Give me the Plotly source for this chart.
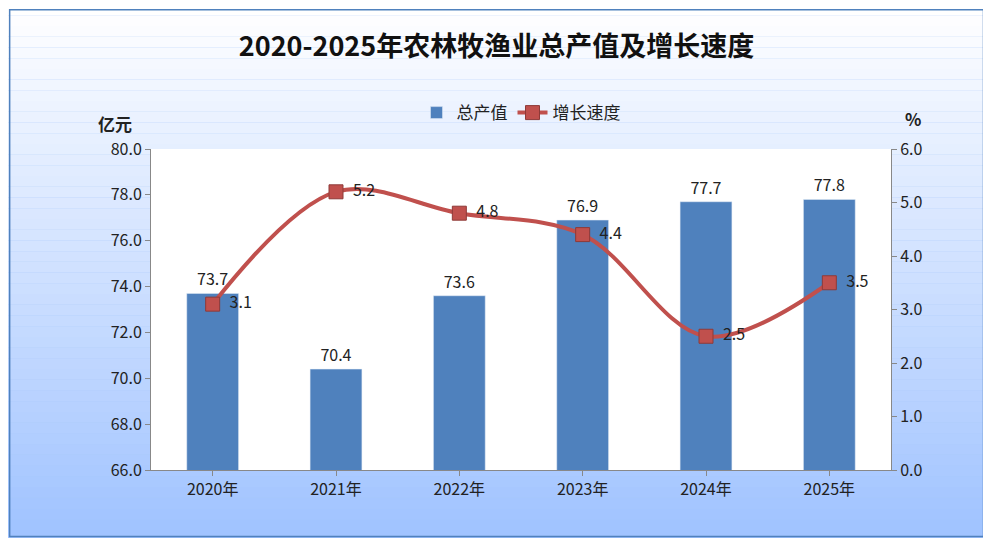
import plotly.graph_objects as go

years = ["2020年", "2021年", "2022年", "2023年", "2024年", "2025年"]
output = [73.7, 70.4, 73.6, 76.9, 77.7, 77.8]
growth = [3.1, 5.2, 4.8, 4.4, 2.5, 3.5]

fig = go.Figure()
fig.add_trace(go.Bar(x=years, y=output, name="总产值", marker_color="#4F81BD",
                     width=0.42, text=[f"{v:.1f}" for v in output], textposition="outside",
                     textfont=dict(size=16, color="#222"), cliponaxis=False))
fig.add_trace(go.Scatter(x=years, y=growth, name="增长速度", yaxis="y2", mode="lines+markers+text",
                         line=dict(color="#C0504D", width=4, shape="spline", smoothing=1.0),
                         marker=dict(symbol="square", size=14, color="#C0504D",
                                     line=dict(color="#8E3A38", width=1)),
                         text=["  " + f"{v:.1f}" for v in growth], textposition="middle right",
                         textfont=dict(size=16, color="#222"), cliponaxis=False))

X0, X1, Y0, Y1 = -0.2, 1.14, -0.22, 1.45
shapes = []
n = 50
for i in range(n):
    t = i / (n - 1)
    r = int(255 - (255 - 160) * t); g = int(255 - (255 - 195) * t); b = 255
    shapes.append(dict(type="rect", xref="paper", yref="paper", layer="below",
                       x0=X0, x1=X1, y0=Y1 - (i + 1) * (Y1 - Y0) / n,
                       y1=Y1 - i * (Y1 - Y0) / n,
                       fillcolor=f"rgb({r},{g},{b})", line_width=0))
shapes.append(dict(type="rect", xref="paper", yref="paper", x0=0, x1=1, y0=0, y1=1,
                   fillcolor="white", line_width=0, layer="below"))
shapes.append(dict(type="rect", xref="paper", yref="paper", x0=-0.191, x1=1.125, y0=-0.207,
                   y1=1.434, line=dict(color="#4F81BD", width=1.5)))

fig.update_layout(
    width=977, height=530, margin=dict(l=143, r=94, t=141, b=68),
    paper_bgcolor="#A8C8F8", plot_bgcolor="rgba(0,0,0,0)", shapes=shapes,
    font=dict(family="Noto Sans CJK SC", size=16, color="#222"),
    title=dict(text="<b>2020-2025年农林牧渔业总产值及增长速度</b>", x=0.5, xanchor="center",
               y=0.928, yanchor="middle", font=dict(size=27, color="#111")),
    showlegend=True,
    legend=dict(orientation="h", x=0.5, xanchor="center", y=1.112, yanchor="middle",
                bgcolor="rgba(0,0,0,0)", font=dict(size=17)),
    xaxis=dict(showline=True, linecolor="#888", ticks="outside", tickcolor="#888",
               tickfont=dict(size=16)),
    yaxis=dict(range=[66, 80], dtick=2, tickformat=".1f", showgrid=False, showline=True,
               linecolor="#888", ticks="outside", tickcolor="#888", tickfont=dict(size=16)),
    yaxis2=dict(range=[0, 6], dtick=1, tickformat=".1f", overlaying="y", side="right",
                showgrid=False, showline=True, linecolor="#888", ticks="outside",
                tickcolor="#888", tickfont=dict(size=16)),
    annotations=[
        dict(text="<b>亿元</b>", xref="paper", yref="paper", x=-0.074, y=1.125, showarrow=False,
             font=dict(size=17)),
        dict(text="<b>%</b>", xref="paper", yref="paper", x=1.043, y=1.14, showarrow=False,
             font=dict(size=17)),
    ],
)
fig.write_html("out.html")
